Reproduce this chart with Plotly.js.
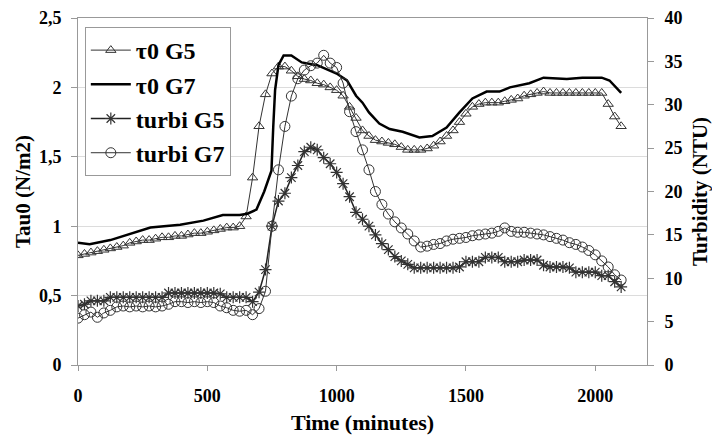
<!DOCTYPE html>
<html>
<head>
<meta charset="utf-8">
<script src="https://cdn.plot.ly/plotly-3.0.1.min.js"></script>
<style>html,body{margin:0;padding:0;background:#fff;}#chart{width:712px;height:440px;}</style>
</head>
<body>
<div id="chart"></div>
<script>
// time (minutes) for the marker series
var timeMin = [0,25,50,75,100,125,150,175,200,225,250,275,300,325,350,375,400,425,450,475,500,525,550,575,600,625,650,675,700,725,750,775,800,825,850,875,900,925,950,975,1000,1025,1050,1075,1100,1125,1150,1175,1200,1225,1250,1275,1300,1325,1350,1375,1400,1425,1450,1475,1500,1525,1550,1575,1600,1625,1650,1675,1700,1725,1750,1775,1800,1825,1850,1875,1900,1925,1950,1975,2000,2025,2050,2075,2100];

// tau0 G5 (N/m2), left axis
var tau0G5 = [0.79,0.80,0.81,0.82,0.83,0.84,0.85,0.86,0.88,0.89,0.90,0.90,0.91,0.92,0.92,0.93,0.93,0.94,0.95,0.95,0.96,0.97,0.98,0.99,0.99,1.00,1.07,1.35,1.72,1.95,2.10,2.15,2.15,2.12,2.08,2.06,2.05,2.03,2.02,2.00,1.98,1.94,1.86,1.78,1.69,1.65,1.62,1.61,1.60,1.59,1.57,1.55,1.55,1.55,1.56,1.58,1.61,1.65,1.69,1.75,1.81,1.86,1.88,1.89,1.89,1.89,1.90,1.91,1.92,1.94,1.95,1.96,1.97,1.96,1.96,1.96,1.96,1.96,1.96,1.96,1.96,1.96,1.88,1.79,1.72];

// tau0 G7 (N/m2), left axis, solid line
var timeG7 = [0,45,125,230,280,395,485,560,625,655,690,720,748,755,762,775,795,825,865,925,1000,1040,1075,1100,1125,1165,1205,1255,1320,1370,1425,1475,1525,1580,1630,1670,1745,1800,1890,1950,2025,2055,2080,2100];
var tau0G7 = [0.88,0.87,0.90,0.96,0.99,1.01,1.04,1.08,1.08,1.09,1.12,1.25,1.40,1.72,1.98,2.16,2.23,2.23,2.18,2.16,2.10,2.05,1.94,1.89,1.82,1.74,1.70,1.68,1.64,1.65,1.71,1.82,1.92,1.97,1.97,2.00,2.03,2.07,2.06,2.07,2.07,2.05,2.00,1.96];

// turbidity G5 (NTU), right axis
var turbiG5 = [6.8,7.0,7.4,7.4,7.4,7.8,7.8,7.8,7.8,7.8,7.8,7.8,7.8,7.8,8.3,8.3,8.3,8.3,8.3,8.3,8.3,8.3,8.2,7.8,7.8,7.8,7.8,7.3,8.4,11.0,16.0,18.9,19.8,21.6,23.0,24.6,25.1,24.8,23.9,23.2,22.2,20.9,19.4,17.6,16.8,16.0,15.0,14.0,13.3,12.5,12.0,11.6,11.2,11.2,11.2,11.2,11.2,11.2,11.2,11.3,11.9,11.9,11.9,12.4,12.4,12.4,11.9,11.9,11.9,12.1,12.1,12.1,11.5,11.3,11.3,11.3,11.2,10.7,10.7,10.7,10.7,10.3,10.3,9.6,9.0];

// turbidity G7 (NTU), right axis
var turbiG7 = [5.4,5.8,6.1,5.5,6.0,6.3,6.7,6.8,6.7,6.8,6.7,6.8,6.7,6.8,7.0,7.3,7.3,7.2,7.3,7.2,7.3,7.2,6.8,6.6,6.3,6.2,6.3,5.8,6.5,8.5,16.0,22.5,27.5,31.0,33.0,34.0,34.5,34.8,35.7,34.8,34.3,32.5,29.2,26.9,24.8,22.5,20.0,18.5,17.4,16.5,15.8,15.1,14.3,13.6,13.7,13.9,14.0,14.3,14.5,14.6,14.7,14.9,15.0,15.1,15.2,15.4,15.8,15.4,15.3,15.3,15.2,15.1,15.0,14.8,14.6,14.4,14.1,13.9,13.6,13.2,12.7,12.0,11.3,10.4,9.8];

var seriesNames = ['\u03c40 G5', '\u03c40 G7', 'turbi G5', 'turbi G7'];
var xTicks = [0, 500, 1000, 1500, 2000];

var FONT = 'Liberation Serif, Times New Roman, serif';

var traces = [
  {x: timeMin, y: tau0G5, name: seriesNames[0], legendgroup: 'a', mode: 'lines+markers', yaxis: 'y',
   line: {color: '#333', width: 1},
   marker: {symbol: 'triangle-up-open', size: 9, color: '#333', line: {width: 1, color: '#333'}}},
  {x: timeG7, y: tau0G7, name: seriesNames[1], legendgroup: 'b', mode: 'lines', yaxis: 'y',
   line: {color: '#000', width: 2.5}},
  {x: timeMin, y: turbiG5, name: seriesNames[2], legendgroup: 'c', mode: 'lines+markers', yaxis: 'y2',
   line: {color: '#222', width: 1.5},
   marker: {symbol: 'asterisk-open', size: 10, color: '#333', line: {width: 1.2, color: '#333'}}},
  {x: timeMin, y: turbiG7, name: seriesNames[3], legendgroup: 'd', mode: 'lines+markers', yaxis: 'y2',
   line: {color: '#333', width: 1},
   marker: {symbol: 'circle-open', size: 10, color: '#333', line: {width: 1, color: '#333'}}}
];

var layout = {
  width: 712, height: 440,
  margin: {l: 78, r: 65, t: 18, b: 75},
  paper_bgcolor: '#fff', plot_bgcolor: '#fff',
  separators: ', ',
  font: {family: FONT, color: '#000'},
  showlegend: true,
  xaxis: {
    range: [0, 2200], tickvals: xTicks, ticks: 'outside', ticklen: 5, tickcolor: '#999',
    showline: true, linecolor: '#999', linewidth: 1, mirror: true,
    showgrid: false, zeroline: false, ticklabelstandoff: 9,
    tickfont: {family: FONT, size: 18, weight: 'bold'},
    title: {text: 'Time (minutes)', font: {family: FONT, size: 22, weight: 'bold'}, standoff: 10}
  },
  yaxis: {
    range: [0, 2.5], dtick: 0.5, ticks: 'outside', ticklen: 6, tickcolor: '#999',
    showline: true, linecolor: '#999', linewidth: 1,
    showgrid: true, gridcolor: '#dcdcdc', zeroline: false, ticklabelstandoff: 6,
    tickfont: {family: FONT, size: 18, weight: 'bold'},
    title: {text: 'Tau0 (N/m2)', font: {family: FONT, size: 21, weight: 'bold'}, standoff: 2}
  },
  yaxis2: {
    range: [0, 40], dtick: 5, overlaying: 'y', side: 'right',
    ticks: 'outside', ticklen: 6, tickcolor: '#999',
    showline: true, linecolor: '#999', linewidth: 1,
    showgrid: false, zeroline: false, ticklabelstandoff: 7,
    tickfont: {family: FONT, size: 18, weight: 'bold'},
    title: {text: 'Turbidity (NTU)', font: {family: FONT, size: 21, weight: 'bold'}, standoff: 12}
  },
  legend: {
    x: 0.012, y: 0.974, xanchor: 'left', yanchor: 'top',
    bgcolor: '#fff', bordercolor: '#999', borderwidth: 1,
    font: {family: FONT, size: 24, weight: 'bold', color: '#000'},
    tracegroupgap: 2.5, itemwidth: 40, traceorder: 'normal'
  }
};

Plotly.newPlot('chart', traces, layout, {displayModeBar: false, staticPlot: true});
</script>
</body>
</html>
